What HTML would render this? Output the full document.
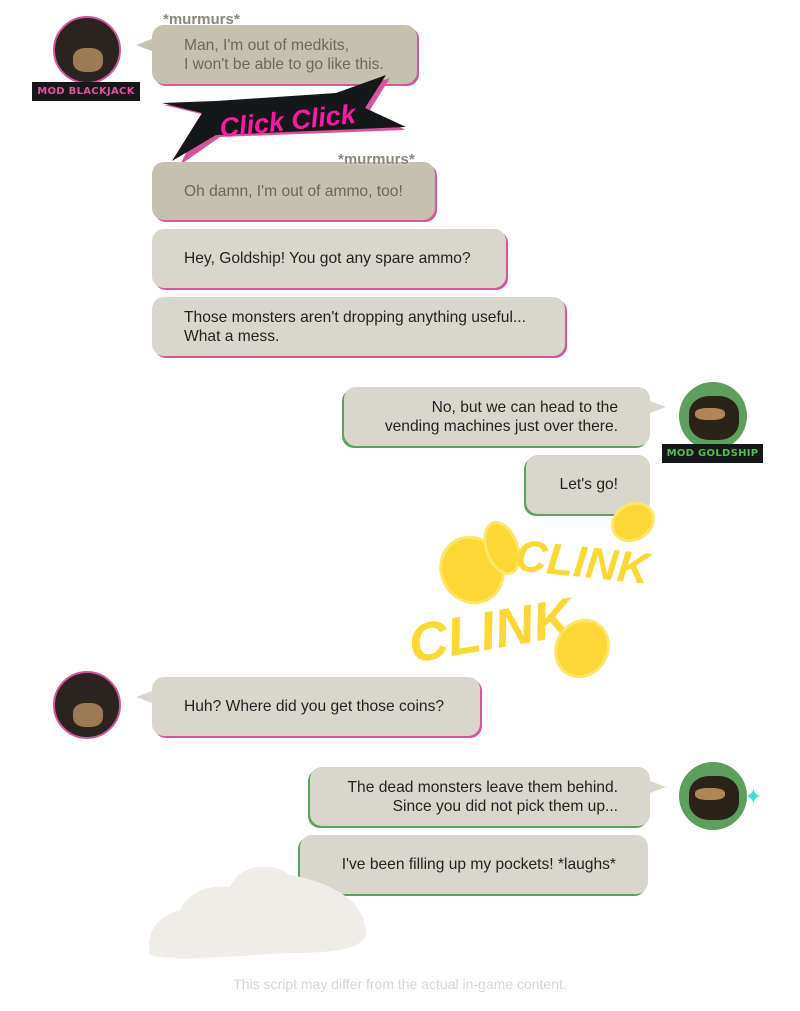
<!DOCTYPE html>
<html><head><meta charset="utf-8"><style>
body{margin:0;width:800px;height:1011px;background:#fff;position:relative;overflow:hidden;font-family:"Liberation Sans",sans-serif}
.b{position:absolute;background:#d9d7cc;border-radius:12px;font-size:15.6px;line-height:19px;color:#222;box-sizing:border-box;display:flex;flex-direction:column;justify-content:center}
.l{padding-left:32px;box-shadow:2px 2px 0 #d4559e}
.r{padding-right:32px;text-align:right;box-shadow:-2px 2px 0 #5aa35a}
.m{background:#c5c1ae;color:#6b685c}
.av{position:absolute;width:68px;height:68px;border-radius:50%;overflow:hidden}
.lab{position:absolute;background:#151718;font:bold 10px "DejaVu Sans",sans-serif;letter-spacing:0.3px;padding:4px 0;box-sizing:border-box;text-align:center;white-space:nowrap;overflow:hidden}
.mur{position:absolute;font:bold 15px "Liberation Sans",sans-serif;color:#8b887a;text-shadow:0 0 2px #fff}
.tl:before{content:"";position:absolute;left:-16px;top:14px;border:6px solid transparent;border-right:16px solid #d9d7cc;border-left:0}
.tlm:before{border-right-color:#c5c1ae}
.tr:after{content:"";position:absolute;right:-16px;top:14px;border:6px solid transparent;border-left:16px solid #d9d7cc;border-right:0}
.clink{position:absolute;font:bold 44px "Liberation Sans",sans-serif;color:#fdd835;font-style:italic}
.coin{position:absolute;background:#fdd835;border-radius:50%;border:3px solid #ffe66b}
</style></head><body>
<div class="av" style="left:53px;top:16px;background:#2a2420;border:2px solid #d4559e;box-sizing:border-box"><div style="position:absolute;left:18px;top:30px;width:30px;height:24px;background:#9c7a55;border-radius:40%"></div></div>
<div class="lab" style="left:32px;top:82px;width:108px;color:#e1529f">MOD BLACKJACK</div>
<div class="av" style="left:679px;top:382px;background:#5e9e5e"><div style="position:absolute;left:10px;top:14px;width:50px;height:44px;background:#2b2218;border-radius:40%"></div><div style="position:absolute;left:16px;top:26px;width:30px;height:12px;background:#b08658;border-radius:40%"></div></div>
<div class="lab" style="left:662px;top:444px;width:101px;color:#4fc04f">MOD GOLDSHIP</div>
<div class="av" style="left:53px;top:671px;background:#2a2420;border:2px solid #d4559e;box-sizing:border-box"><div style="position:absolute;left:18px;top:30px;width:30px;height:24px;background:#9c7a55;border-radius:40%"></div></div>
<div class="av" style="left:679px;top:762px;background:#5e9e5e"><div style="position:absolute;left:10px;top:14px;width:50px;height:44px;background:#2b2218;border-radius:40%"></div><div style="position:absolute;left:16px;top:26px;width:30px;height:12px;background:#b08658;border-radius:40%"></div></div>
<div style="position:absolute;left:744px;top:784px;color:#3de0d0;font-size:22px">✦</div>

<div class="b l m tl tlm" style="left:152px;top:25px;width:265px;height:59px">Man, I'm out of medkits,<br>I won't be able to go like this.</div>
<div class="mur" style="left:163px;top:11px">*murmurs*</div>

<svg style="position:absolute;left:160px;top:75px" width="250" height="95"><polygon points="4,30 45,40 20,90 60,62 245,55 210,35 230,3 180,20 60,28" fill="#d4559e"/><polygon points="2,28 42,38 12,86 56,60 246,52 205,33 226,0 176,18 56,26" fill="#151718"/><text x="128" y="55" text-anchor="middle" font-family="Liberation Sans" font-weight="bold" font-style="italic" font-size="27" fill="#ff1aa3" transform="rotate(-6 128 50)">Click Click</text></svg>

<div class="b l m" style="left:152px;top:162px;width:283px;height:58px">Oh damn, I'm out of ammo, too!</div>
<div class="mur" style="left:338px;top:151px">*murmurs*</div>
<div class="b l" style="left:152px;top:229px;width:354px;height:59px">Hey, Goldship! You got any spare ammo?</div>
<div class="b l" style="left:152px;top:297px;width:413px;height:59px">Those monsters aren't dropping anything useful...<br>What a mess.</div>
<div class="b r tr" style="left:344px;top:387px;width:306px;height:59px">No, but we can head to the<br>vending machines just over there.</div>
<div class="b r" style="left:526px;top:455px;width:124px;height:59px">Let's go!</div>

<div class="coin" style="left:610px;top:503px;width:40px;height:32px;transform:rotate(-30deg)"></div>
<div class="coin" style="left:440px;top:535px;width:58px;height:64px;transform:rotate(-30deg)"></div>
<div class="coin" style="left:485px;top:520px;width:28px;height:50px;transform:rotate(-20deg)"></div>
<div class="clink" style="left:515px;top:538px;transform:rotate(6deg)">CLINK</div>
<div class="clink" style="left:408px;top:600px;font-size:54px;transform:rotate(-10deg)">CLINK</div>
<div class="coin" style="left:555px;top:618px;width:48px;height:55px;transform:rotate(30deg)"></div>

<div class="b l tl" style="left:152px;top:677px;width:328px;height:59px">Huh? Where did you get those coins?</div>
<div class="b r tr" style="left:310px;top:767px;width:340px;height:59px">The dead monsters leave them behind.<br>Since you did not pick them up...</div>
<div class="b r" style="left:300px;top:835px;width:348px;height:59px">I've been filling up my pockets! *laughs*</div>

<svg style="position:absolute;left:140px;top:845px" width="240" height="125"><path d="M10,110 C5,85 20,70 40,65 C50,45 70,40 90,42 C100,20 130,15 150,30 C180,35 220,50 225,80 C232,100 210,108 150,108 C100,110 40,118 10,110Z" fill="#eeede8"/></svg>
<div style="position:absolute;left:0;width:800px;top:976px;text-align:center;font-size:14px;color:#d5d5d5">This script may differ from the actual in-game content.</div>
</body></html>
